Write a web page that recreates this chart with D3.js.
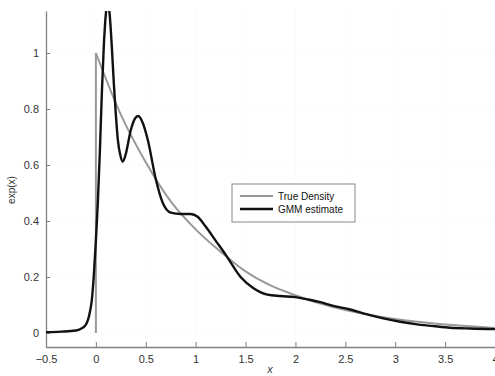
<!DOCTYPE html>
<html>
<head>
<meta charset="utf-8">
<script src="https://cdn.jsdelivr.net/npm/d3@7"></script>
<style>
  body { margin: 0; background: #fff; }
  svg { font-family: "Liberation Sans", Arial, sans-serif; }
  .axis path, .axis line { stroke: #808080; }
  .axis text { fill: #333; font-size: 11px; }
</style>
</head>
<body>
<svg width="495" height="376"></svg>
<script>
// values
var xTicks = [-0.5, 0, 0.5, 1, 1.5, 2, 2.5, 3, 3.5, 4];
var yTicks = [0, 0.2, 0.4, 0.6, 0.8, 1];

var trueX = [0, 0, 0.25, 0.5, 0.75, 1, 1.25, 1.5, 1.75, 2, 2.25, 2.5, 2.75, 3, 3.25, 3.5, 3.75, 4];
var trueY = [0, 1, 0.78, 0.61, 0.47, 0.37, 0.29, 0.22, 0.17, 0.135, 0.105, 0.082, 0.064, 0.05, 0.039, 0.03, 0.024, 0.018];

var gmmX = [-0.5, -0.35, -0.2, -0.15, -0.1, -0.06, -0.04, -0.02, 0, 0.02, 0.04, 0.06, 0.08, 0.1, 0.12,
            0.14, 0.16, 0.18, 0.2, 0.22, 0.245, 0.27, 0.3, 0.35, 0.39, 0.425, 0.47, 0.52, 0.6, 0.67,
            0.75, 0.85, 0.95, 1.02, 1.1, 1.2, 1.3, 1.45, 1.58, 1.72, 1.85, 2, 2.12, 2.25, 2.38,
            2.55, 2.7, 2.88, 3.05, 3.22, 3.4, 3.55, 3.75, 4];
var gmmY = [0.003, 0.005, 0.009, 0.015, 0.03, 0.075, 0.12, 0.21, 0.33, 0.47, 0.65, 0.86, 1.03, 1.14, 1.18,
            1.13, 1.02, 0.89, 0.78, 0.69, 0.635, 0.612, 0.64, 0.725, 0.765, 0.775, 0.75, 0.69, 0.55, 0.465,
            0.43, 0.425, 0.425, 0.415, 0.38, 0.33, 0.28, 0.2, 0.16, 0.137, 0.132, 0.128, 0.12, 0.11, 0.097,
            0.084, 0.068, 0.052, 0.04, 0.031, 0.024, 0.019, 0.016, 0.014];

var svg = d3.select("svg"),
    margin = {top: 11, right: 0, bottom: 29, left: 46},
    width = svg.attr("width") - margin.left - margin.right,
    height = svg.attr("height") - margin.top - margin.bottom,
    g = svg.append("g").attr("transform", "translate(" + margin.left + "," + margin.top + ")");

var x = d3.scaleLinear().domain([-0.5, 4]).range([0, width]),
    y = d3.scaleLinear().domain([-0.05, 1.15]).range([height, 0]);

g.append("clipPath").attr("id", "clip")
  .append("rect").attr("width", width).attr("height", height);

// faint dotted grid
g.append("g")
    .selectAll("line")
    .data(xTicks.slice(1, -1))
    .enter().append("line")
    .attr("x1", function(d) { return x(d); }).attr("x2", function(d) { return x(d); })
    .attr("y1", 0).attr("y2", height)
    .attr("stroke", "#e4e4e4").attr("stroke-width", 0.6).attr("stroke-dasharray", "1,3");

g.append("g")
    .selectAll("line")
    .data(yTicks)
    .enter().append("line")
    .attr("x1", 0).attr("x2", width)
    .attr("y1", function(d) { return y(d); }).attr("y2", function(d) { return y(d); })
    .attr("stroke", "#e4e4e4").attr("stroke-width", 0.6).attr("stroke-dasharray", "1,3");

g.append("g")
    .attr("class", "axis")
    .attr("transform", "translate(0," + height + ")")
    .call(d3.axisBottom(x).tickValues(xTicks).tickFormat(d3.format("")).tickSizeInner(-5).tickSizeOuter(0).tickPadding(8));

g.append("g")
    .attr("class", "axis")
    .call(d3.axisLeft(y).tickValues(yTicks).tickFormat(d3.format("")).tickSizeInner(-4).tickSizeOuter(0).tickPadding(7));

g.selectAll(".axis .domain").attr("stroke-width", 1.3);

var line = d3.line()
    .curve(d3.curveMonotoneX)
    .x(function(d) { return x(d[0]); })
    .y(function(d) { return y(d[1]); });

var truePts = trueX.map(function(d, i) { return [d, trueY[i]]; });
var gmmPts = gmmX.map(function(d, i) { return [d, gmmY[i]]; });

var plot = g.append("g").attr("clip-path", "url(#clip)");

plot.append("path")
    .attr("d", d3.line().x(function(d) { return x(d[0]); }).y(function(d) { return y(d[1]); })(truePts.slice(0, 2)))
    .attr("fill", "none").attr("stroke", "#999").attr("stroke-width", 2);

plot.append("path")
    .attr("d", line(truePts.slice(1)))
    .attr("fill", "none").attr("stroke", "#999").attr("stroke-width", 2);

plot.append("path")
    .attr("d", line(gmmPts))
    .attr("fill", "none").attr("stroke", "#111").attr("stroke-width", 2.4)
    .attr("stroke-linejoin", "round");

// labels
svg.append("text")
    .attr("transform", "translate(15,190) rotate(-90)")
    .attr("text-anchor", "middle")
    .style("font-size", "10px").attr("fill", "#333")
    .text("exp(x)");

svg.append("text")
    .attr("x", 270).attr("y", 373)
    .attr("text-anchor", "middle")
    .style("font-size", "11px").style("font-style", "italic").attr("fill", "#333")
    .text("x");

// legend
var legend = svg.append("g").attr("transform", "translate(232,184)");
legend.append("rect")
    .attr("width", 123).attr("height", 38)
    .attr("fill", "#fff").attr("stroke", "#888").attr("stroke-width", 1);

var legendItems = [{name: "True Density", color: "#999", w: 2}, {name: "GMM estimate", color: "#111", w: 2.4}];
var item = legend.selectAll(".item")
  .data(legendItems)
  .enter().append("g")
    .attr("transform", function(d, i) { return "translate(0," + (12 + i * 13) + ")"; });

item.append("line")
    .attr("x1", 8).attr("x2", 41)
    .attr("stroke", function(d) { return d.color; })
    .attr("stroke-width", function(d) { return d.w; });

item.append("text")
    .attr("x", 46).attr("dy", "0.35em")
    .style("font-size", "10px").attr("fill", "#111")
    .text(function(d) { return d.name; });
</script>
</body>
</html>
